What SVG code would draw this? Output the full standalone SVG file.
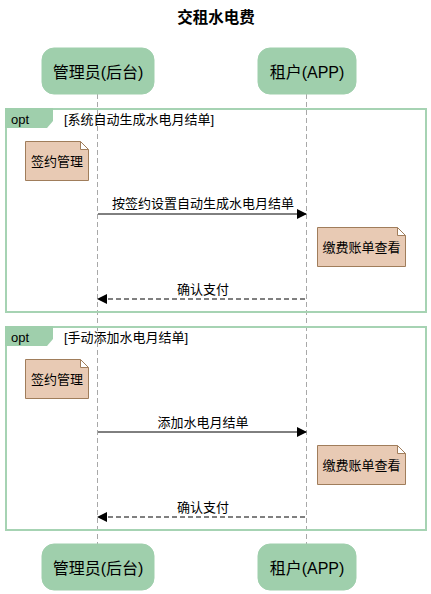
<svg xmlns="http://www.w3.org/2000/svg" width="431" height="594" viewBox="0 0 431 594">
<style>
text{font-family:"Liberation Sans","Noto Sans CJK SC",sans-serif;fill:#000}
.title{font-size:15.5px;font-weight:bold}
.part rect{fill:#9fcfac;stroke:#9fcfac}
.part text{font-size:16px}
.life{stroke:#a8a8a8;stroke-width:1;stroke-dasharray:5,3;fill:none}
.frame{fill:none;stroke:#a6d3b3;stroke-width:2}
.tab{fill:#9fcfac}
.ftxt{font-size:13px}
.note path{fill:#e8cab4;stroke:#a07d5b;stroke-width:1}
.note text{font-size:13px}
.msg{stroke:#000;stroke-width:1;fill:none}
.dash{stroke-dasharray:5,3}
.mtxt{font-size:13px}
</style>
<defs>
<marker id="ah" markerWidth="10" markerHeight="10" refX="9" refY="5" orient="auto" markerUnits="userSpaceOnUse">
<path d="M0,0 L10,5 L0,10 Z" fill="#000"/>
</marker>
</defs>
<text class="title" x="216" y="23" text-anchor="middle">交租水电费</text>
<g id="lifelines">
<line class="life" x1="97.5" y1="94" x2="97.5" y2="544"/>
<line class="life" x1="306.5" y1="94" x2="306.5" y2="544"/>
</g>
<g id="frame1">
<rect class="frame" x="6" y="109" width="420" height="203"/>
<path class="tab" d="M5,108 H53 V121 L47,128 H5 Z"/>
<text class="ftxt" x="11" y="124">opt</text>
<text class="ftxt" x="64" y="124">[系统自动生成水电月结单]</text>
</g>
<g id="frame2">
<rect class="frame" x="6" y="327" width="420" height="203"/>
<path class="tab" d="M5,326 H53 V339 L47,346 H5 Z"/>
<text class="ftxt" x="11" y="342">opt</text>
<text class="ftxt" x="64" y="342">[手动添加水电月结单]</text>
</g>
<g id="p-admin-top" class="part">
<rect x="42" y="48" width="112" height="46" rx="12"/>
<text x="98" y="78" text-anchor="middle">管理员(后台)</text>
</g>
<g id="p-tenant-top" class="part">
<rect x="258" y="48" width="98" height="46" rx="12"/>
<text x="307" y="78" text-anchor="middle">租户(APP)</text>
</g>
<g id="p-admin-bottom" class="part">
<rect x="42" y="544" width="112" height="46" rx="12"/>
<text x="98" y="574" text-anchor="middle">管理员(后台)</text>
</g>
<g id="p-tenant-bottom" class="part">
<rect x="258" y="544" width="98" height="46" rx="12"/>
<text x="307" y="574" text-anchor="middle">租户(APP)</text>
</g>
<g id="note1" class="note">
<path d="M25.5,141.5 H80.5 L88.5,149.5 V180.5 H25.5 Z M80.5,141.5 V149.5 H88.5"/>
<text x="57" y="166" text-anchor="middle">签约管理</text>
</g>
<g id="note2" class="note">
<path d="M317.5,227.5 H397.5 L405.5,235.5 V266.5 H317.5 Z M397.5,227.5 V235.5 H405.5"/>
<text x="361.5" y="252" text-anchor="middle">缴费账单查看</text>
</g>
<g id="note3" class="note">
<path d="M25.5,359.5 H80.5 L88.5,367.5 V398.5 H25.5 Z M80.5,359.5 V367.5 H88.5"/>
<text x="57" y="384" text-anchor="middle">签约管理</text>
</g>
<g id="note4" class="note">
<path d="M317.5,445.5 H397.5 L405.5,453.5 V484.5 H317.5 Z M397.5,445.5 V453.5 H405.5"/>
<text x="361.5" y="470" text-anchor="middle">缴费账单查看</text>
</g>
<g id="connectors">
<line class="msg" x1="98" y1="214" x2="306" y2="214" marker-end="url(#ah)"/>
<text class="mtxt" x="203" y="208" text-anchor="middle">按签约设置自动生成水电月结单</text>
<line class="msg dash" x1="305" y1="299" x2="98" y2="299" marker-end="url(#ah)"/>
<text class="mtxt" x="203" y="294" text-anchor="middle">确认支付</text>
<line class="msg" x1="98" y1="432" x2="306" y2="432" marker-end="url(#ah)"/>
<text class="mtxt" x="203" y="427" text-anchor="middle">添加水电月结单</text>
<line class="msg dash" x1="305" y1="517" x2="98" y2="517" marker-end="url(#ah)"/>
<text class="mtxt" x="203" y="512" text-anchor="middle">确认支付</text>
</g>
</svg>
